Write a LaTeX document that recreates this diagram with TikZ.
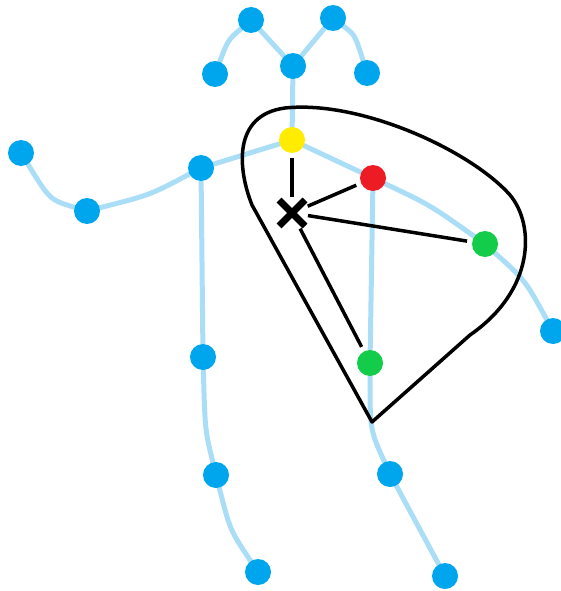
\documentclass[tikz,border=0pt]{standalone}
\usepackage{xcolor}
\usetikzlibrary{shapes.misc, backgrounds}
\definecolor{jointblue}{RGB}{0, 166, 237}
\definecolor{bonecol}{RGB}{170, 222, 246}
\definecolor{myyellow}{RGB}{255, 236, 0}
\definecolor{myred}{RGB}{237, 28, 36}
\definecolor{mygreen}{RGB}{18, 204, 74}

\tikzset{
  joint/.style={circle, fill=jointblue, minimum size=26pt, inner sep=0pt},
  bone/.style={color=bonecol, line width=5pt, line cap=round},
  link/.style={line width=3.5pt, shorten <=3pt, shorten >=5pt}
}

\begin{document}
\begin{tikzpicture}[x=1pt, y=-1pt]
\useasboundingbox (0,0) rectangle (561,591);

% head
\node[joint] (headL) at (251,20) {};
\node[joint] (headR) at (333,18) {};
\node[joint] (earL) at (215,74) {};
\node[joint] (earR) at (367,73) {};
\node[joint] (neck) at (293,66) {};

% arms
\node[joint,fill=myyellow] (chest) at (292,140) {};
\node[joint] (shoulderL) at (201,168) {};
\node[joint] (elbowL) at (87,211) {};
\node[joint] (handL) at (21,153) {};
\node[joint,fill=myred] (shoulderR) at (373,178) {};
\node[joint,fill=mygreen] (elbowR) at (485,244) {};
\node[joint] (handR) at (553,331) {};

% legs
\node[joint] (hipL) at (203,357) {};
\node[joint] (kneeL) at (216,475) {};
\node[joint] (footL) at (258,572) {};
\node[joint,fill=mygreen] (hipR) at (370,363) {};
\node[joint] (kneeR) at (390,474) {};
\node[joint] (footR) at (445,576) {};

\node[cross out, draw, line width=7pt, minimum size=19pt, inner sep=0pt] (mid) at (292,213) {};

\begin{scope}[on background layer]
\draw[bone] (earL) .. controls (228,40) .. (headL);
\draw[bone] (headL) -- (neck) -- (headR);
\draw[bone] (headR) .. controls (355,35) .. (earR);
\draw[bone] (neck) -- (chest) -- (shoulderL);
\draw[bone] (chest) -- (shoulderR) .. controls (430,205) .. (elbowR);
\draw[bone] (elbowR) .. controls (525,280) .. (handR);
\draw[bone] (shoulderL) .. controls (150,195) .. (elbowL);
\draw[bone] (elbowL) .. controls (50,200) .. (handL);
\draw[bone] (shoulderL) -- (hipL);
\draw[bone] (hipL) .. controls (205,430) .. (kneeL);
\draw[bone] (kneeL) .. controls (230,530) .. (footL);
\draw[bone] (shoulderR) -- (hipR) .. controls (370,430) .. (kneeR);
\draw[bone] (kneeR) -- (footR);
\end{scope}

% region around the joints
\draw[line width=3.5pt, line join=round] (372,422) -- (252,205)
  .. controls (238,170) and (232,115) .. (285,108)
  .. controls (360,100) and (470,150) .. (510,195)
  .. controls (535,225) and (535,290) .. (470,335) -- cycle;

\draw[link] (mid) -- (chest);
\draw[link] (mid) -- (shoulderR);
\draw[link] (mid) -- (elbowR);
\draw[link] (mid) -- (hipR);

\end{tikzpicture}
\end{document}
